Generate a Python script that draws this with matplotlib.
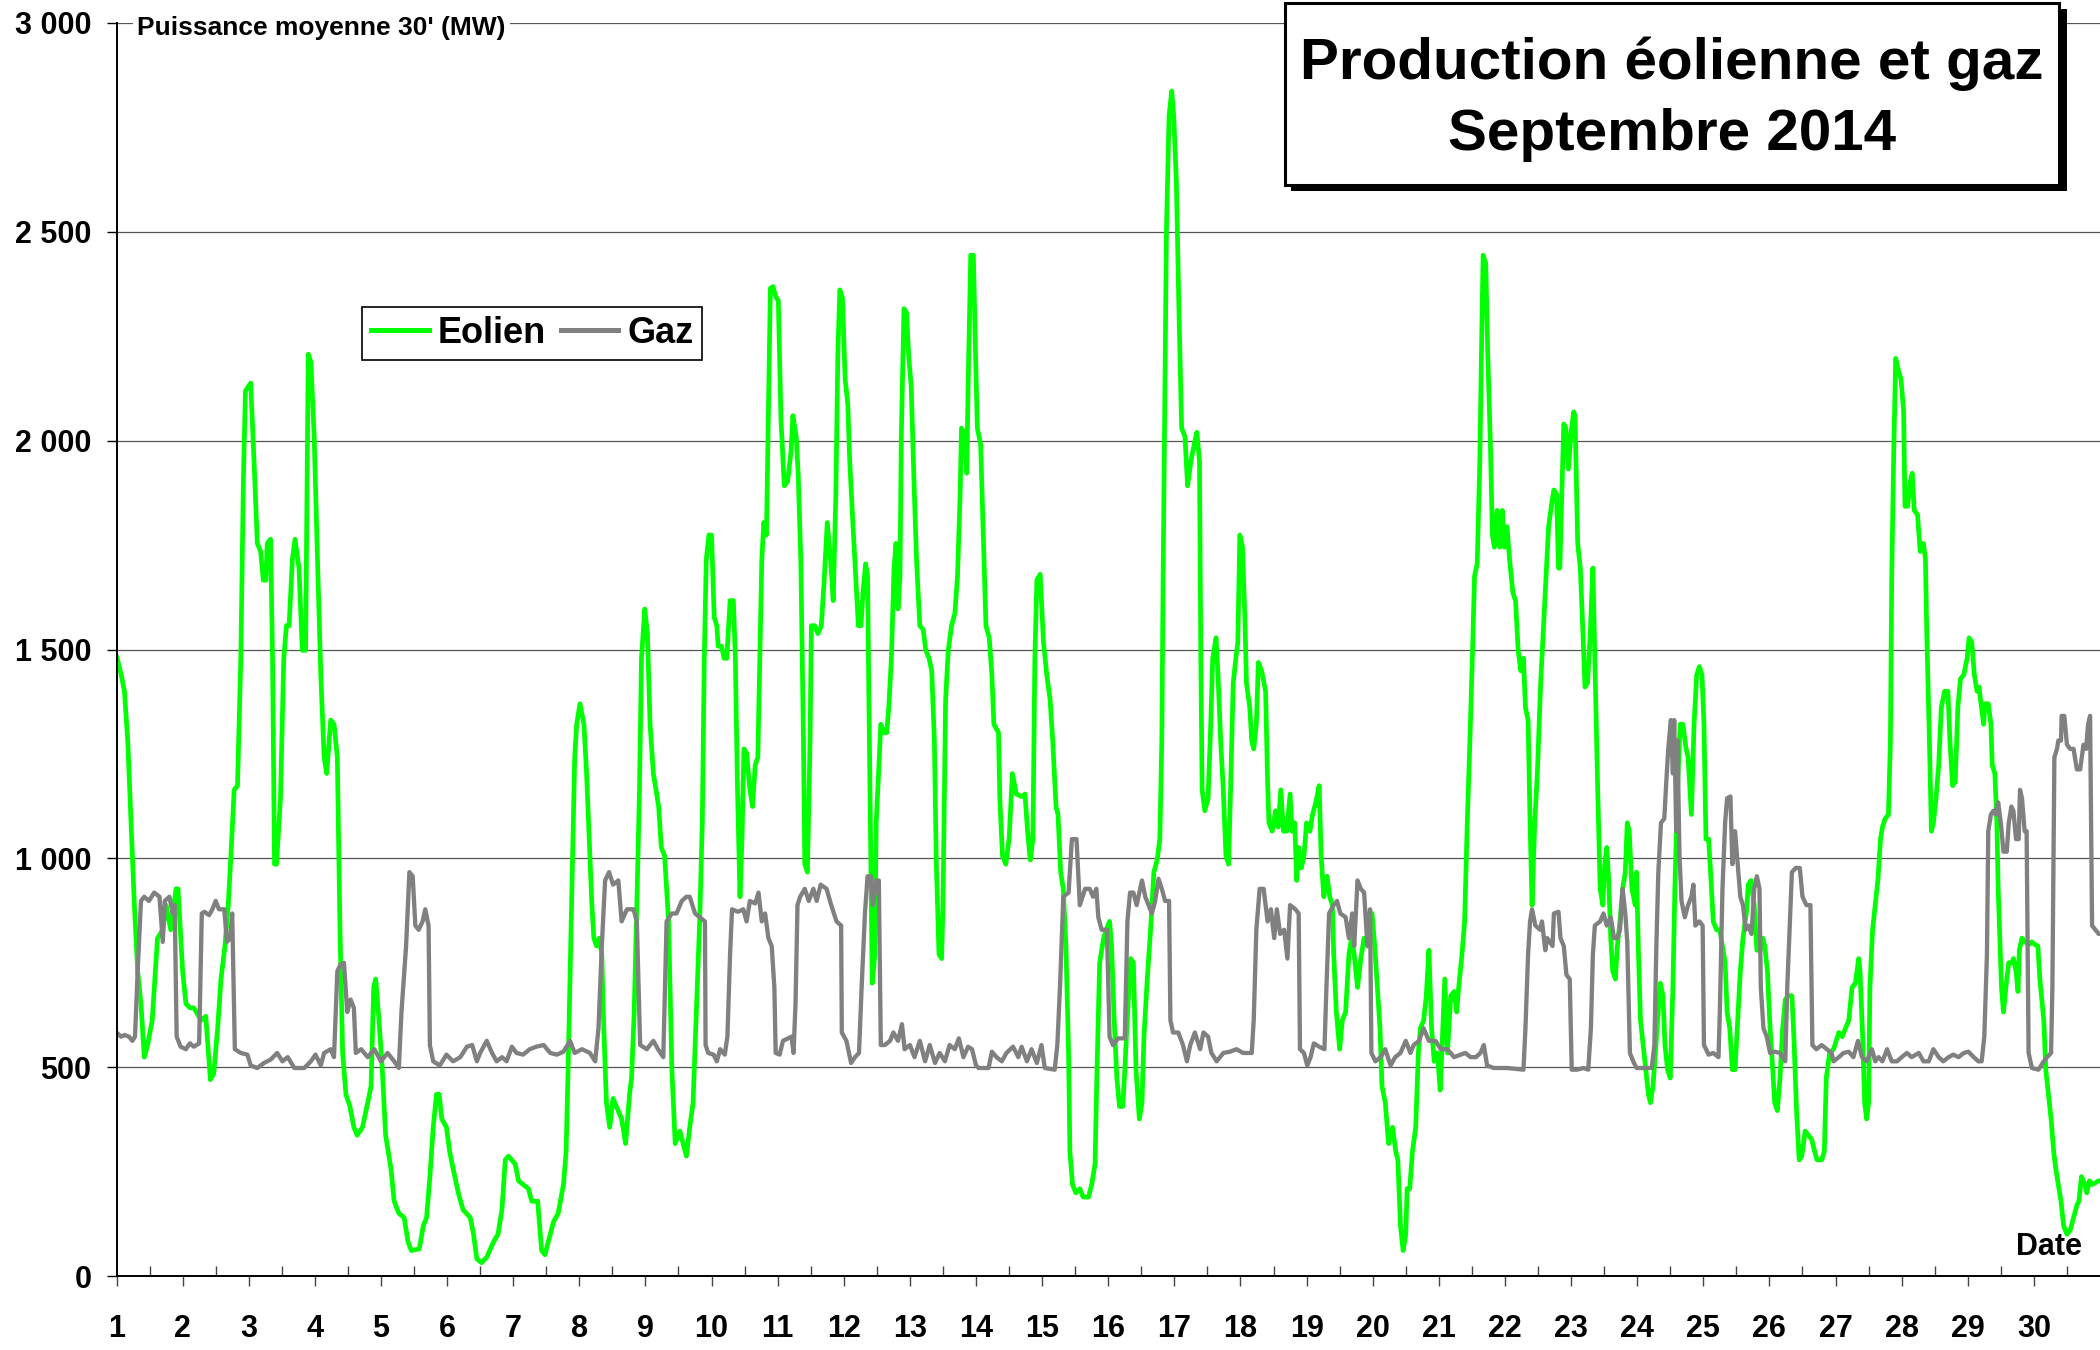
"""Production éolienne et gaz, septembre 2014 (puissance moyenne 30')."""

import matplotlib

matplotlib.use("Agg")
import matplotlib.pyplot as plt
from matplotlib.patches import Rectangle
from matplotlib.lines import Line2D
from matplotlib.ticker import FuncFormatter

# wind power, day of month (fractional) -> MW
wind_day = [
    1.00, 1.07, 1.12, 1.17, 1.22, 1.27, 1.32, 1.37, 1.42, 1.47, 1.54, 1.62, 1.70, 1.75, 1.82, 1.90, 1.93,
    2.00, 2.05, 2.11, 2.17, 2.28, 2.35, 2.42, 2.47, 2.53, 2.58, 2.64, 2.69, 2.73, 2.78, 2.83, 2.88, 2.92, 2.95,
    3.03, 3.08, 3.13, 3.18, 3.22, 3.26, 3.28, 3.33, 3.36, 3.39, 3.42, 3.48, 3.53, 3.57, 3.61, 3.66, 3.70, 3.76, 3.81, 3.86, 3.90, 3.94, 3.99,
    4.04, 4.09, 4.14, 4.18, 4.24, 4.29, 4.34, 4.38, 4.42, 4.47, 4.53, 4.59, 4.64, 4.72, 4.80, 4.85, 4.89, 4.92, 4.97,
    5.02, 5.07, 5.15, 5.20, 5.27, 5.35, 5.41, 5.46, 5.58, 5.64, 5.69, 5.74, 5.79, 5.84, 5.88, 5.92, 5.99,
    6.04, 6.09, 6.17, 6.24, 6.35, 6.40, 6.45, 6.52, 6.60, 6.70, 6.77, 6.83, 6.88, 6.93,
    7.03, 7.08, 7.15, 7.23, 7.28, 7.34, 7.37, 7.43, 7.48, 7.56, 7.61, 7.68, 7.76, 7.80, 7.83, 7.87, 7.91, 7.93, 7.96,
    8.01, 8.07, 8.11, 8.15, 8.19, 8.22, 8.26, 8.30, 8.34, 8.37, 8.41, 8.46, 8.51, 8.56, 8.64, 8.70, 8.76, 8.79, 8.83, 8.87, 8.91, 8.94, 8.99,
    9.03, 9.07, 9.12, 9.16, 9.20, 9.24, 9.29, 9.35, 9.40, 9.45, 9.52, 9.57, 9.62, 9.67, 9.72, 9.77, 9.82, 9.86, 9.89, 9.92, 9.96,
    10.00, 10.04, 10.08, 10.10, 10.15, 10.19, 10.23, 10.28, 10.33, 10.36, 10.39, 10.43, 10.46, 10.49, 10.53, 10.58, 10.62, 10.66, 10.70, 10.73, 10.76, 10.79, 10.83, 10.86, 10.89, 10.93, 10.97,
    11.01, 11.05, 11.10, 11.15, 11.20, 11.23, 11.28, 11.31, 11.35, 11.39, 11.41, 11.45, 11.49, 11.51, 11.56, 11.61, 11.66, 11.70, 11.75, 11.80, 11.84, 11.88, 11.91, 11.94, 11.98,
    12.02, 12.06, 12.09, 12.14, 12.18, 12.22, 12.26, 12.29, 12.33, 12.36, 12.38, 12.41, 12.43, 12.47, 12.49, 12.52, 12.56, 12.61, 12.65, 12.68, 12.72, 12.76, 12.79, 12.82, 12.85, 12.87, 12.91, 12.95, 12.98,
    13.02, 13.06, 13.10, 13.15, 13.20, 13.24, 13.29, 13.33, 13.37, 13.40, 13.44, 13.48, 13.50, 13.54, 13.58, 13.63, 13.68, 13.72, 13.76, 13.78, 13.82, 13.86, 13.88, 13.92, 13.96, 13.99,
    14.02, 14.07, 14.11, 14.15, 14.20, 14.24, 14.27, 14.34, 14.36, 14.40, 14.45, 14.50, 14.55, 14.61, 14.69, 14.74, 14.78, 14.82, 14.86, 14.89, 14.92, 14.97,
    15.02, 15.07, 15.12, 15.16, 15.21, 15.24, 15.28, 15.32, 15.36, 15.40, 15.42, 15.46, 15.51, 15.57, 15.62, 15.70, 15.75, 15.80, 15.83, 15.87, 15.93, 15.97,
    16.02, 16.05, 16.09, 16.13, 16.17, 16.22, 16.25, 16.30, 16.34, 16.38, 16.42, 16.47, 16.51, 16.54, 16.59, 16.64, 16.69, 16.74, 16.78, 16.81, 16.83, 16.86, 16.88, 16.92, 16.96, 16.99,
    17.03, 17.07, 17.11, 17.16, 17.20, 17.25, 17.30, 17.34, 17.38, 17.40, 17.42, 17.46, 17.51, 17.55, 17.58, 17.63, 17.66, 17.70, 17.74, 17.78, 17.82, 17.85, 17.89, 17.93, 17.96, 17.99,
    18.03, 18.07, 18.09, 18.14, 18.17, 18.20, 18.24, 18.27, 18.32, 18.38, 18.41, 18.43, 18.48, 18.53, 18.57, 18.61, 18.65, 18.70, 18.75, 18.78, 18.82, 18.85, 18.88, 18.92, 18.96,
    19.00, 19.05, 19.09, 19.14, 19.19, 19.22, 19.26, 19.31, 19.35, 19.39, 19.41, 19.45, 19.50, 19.54, 19.59, 19.64, 19.68, 19.72, 19.77, 19.82, 19.87, 19.93, 19.99,
    20.03, 20.07, 20.11, 20.14, 20.19, 20.24, 20.30, 20.35, 20.38, 20.42, 20.46, 20.50, 20.52, 20.56, 20.60, 20.65, 20.69, 20.72, 20.77, 20.81, 20.85, 20.89, 20.93, 20.98,
    21.02, 21.05, 21.09, 21.13, 21.18, 21.23, 21.27, 21.30, 21.35, 21.39, 21.43, 21.47, 21.51, 21.54, 21.58, 21.62, 21.65, 21.67, 21.71, 21.74, 21.78, 21.81, 21.84, 21.88, 21.92, 21.96, 21.99,
    22.03, 22.07, 22.12, 22.16, 22.20, 22.24, 22.28, 22.31, 22.35, 22.38, 22.41, 22.45, 22.49, 22.54, 22.59, 22.66, 22.71, 22.74, 22.78, 22.81, 22.83, 22.86, 22.89, 22.92, 22.96,
    23.00, 23.04, 23.06, 23.10, 23.14, 23.18, 23.21, 23.25, 23.29, 23.33, 23.36, 23.40, 23.44, 23.48, 23.51, 23.54, 23.57, 23.60, 23.63, 23.67, 23.70, 23.74, 23.78, 23.82, 23.85, 23.88, 23.92, 23.97, 23.99,
    24.02, 24.05, 24.09, 24.13, 24.17, 24.20, 24.24, 24.30, 24.35, 24.39, 24.42, 24.46, 24.50, 24.54, 24.57, 24.61, 24.65, 24.69, 24.74, 24.77, 24.82, 24.86, 24.90, 24.94, 24.98,
    25.01, 25.04, 25.08, 25.11, 25.15, 25.20, 25.25, 25.29, 25.33, 25.36, 25.40, 25.44, 25.48, 25.52, 25.56, 25.60, 25.65, 25.68, 25.72, 25.77, 25.81, 25.86, 25.90, 25.93, 25.97,
    26.01, 26.05, 26.08, 26.12, 26.16, 26.20, 26.24, 26.29, 26.34, 26.37, 26.41, 26.45, 26.49, 26.54, 26.59, 26.64, 26.67, 26.72, 26.79, 26.83, 26.86, 26.91, 26.97,
    27.05, 27.10, 27.15, 27.20, 27.25, 27.30, 27.35, 27.37, 27.41, 27.44, 27.47, 27.50, 27.52, 27.56, 27.60, 27.64, 27.68, 27.71, 27.75, 27.80, 27.83, 27.85, 27.88, 27.91, 27.95, 27.99,
    28.03, 28.05, 28.09, 28.13, 28.16, 28.19, 28.24, 28.28, 28.33, 28.36, 28.38, 28.42, 28.45, 28.48, 28.52, 28.56, 28.60, 28.65, 28.70, 28.73, 28.77, 28.81, 28.85, 28.89, 28.94, 28.99,
    29.02, 29.06, 29.10, 29.14, 29.17, 29.20, 29.24, 29.26, 29.31, 29.35, 29.37, 29.41, 29.44, 29.46, 29.51, 29.54, 29.57, 29.62, 29.67, 29.69, 29.73, 29.76, 29.78, 29.82, 29.87, 29.92, 29.97,
    30.02, 30.06, 30.09, 30.15, 30.18, 30.22, 30.26, 30.30, 30.33, 30.37, 30.41, 30.45, 30.50, 30.55, 30.60, 30.65, 30.68, 30.72, 30.77, 30.80, 30.84, 30.88, 30.93, 30.98,
]
wind_mw = [
    1485, 1440, 1400, 1282, 1085, 888, 730, 652, 524, 553, 612, 809, 829, 888, 829, 927, 927,
    730, 652, 642, 642, 612, 622, 470, 484, 593, 711, 790, 888, 1006, 1164, 1174, 1479, 1912, 2119,
    2138, 1951, 1754, 1735, 1666, 1666, 1754, 1764, 1479, 986, 986, 1144, 1479, 1557, 1557, 1715, 1764, 1695, 1498, 1498, 2207, 2188, 2010,
    1715, 1439, 1242, 1203, 1331, 1321, 1242, 829, 534, 435, 406, 356, 337, 356, 415, 455, 691, 711, 612,
    494, 337, 258, 179, 150, 140, 81, 61, 65, 120, 140, 238, 356, 435, 435, 376, 356,
    297, 258, 199, 159, 140, 100, 41, 32, 45, 81, 100, 159, 278, 287,
    268, 228, 219, 209, 179, 179, 179, 61, 51, 100, 130, 150, 219, 297, 494, 790, 1085, 1242, 1321,
    1370, 1321, 1203, 1046, 888, 809, 790, 809, 770, 593, 415, 356, 425, 406, 376, 317, 435, 474, 632, 888, 1164, 1479, 1597,
    1538, 1321, 1203, 1164, 1124, 1026, 1006, 849, 494, 317, 347, 317, 287, 356, 415, 632, 849, 1085, 1479, 1715, 1774,
    1774, 1577, 1557, 1508, 1508, 1479, 1479, 1617, 1617, 1479, 1183, 908, 1046, 1262, 1252, 1164, 1124, 1223, 1242, 1479, 1715, 1804, 1774, 2069, 2365, 2369, 2345,
    2335, 2050, 1892, 1902, 1971, 2060, 2010, 1922, 1715, 1282, 986, 967, 1282, 1557, 1557, 1538, 1557, 1656, 1804, 1715, 1617, 1873, 2207, 2361, 2341,
    2148, 2089, 1951, 1794, 1676, 1557, 1557, 1636, 1705, 1676, 1380, 986, 701, 770, 1085, 1183, 1321, 1301, 1301, 1361, 1479, 1695, 1754, 1597, 1676, 2010, 2316, 2306, 2207,
    2128, 1912, 1715, 1557, 1548, 1498, 1479, 1449, 1282, 986, 770, 760, 888, 1380, 1498, 1557, 1587, 1676, 1873, 2030, 2020, 1922, 2128, 2444, 2444, 2227,
    2030, 1991, 1774, 1557, 1528, 1439, 1321, 1301, 1144, 1006, 986, 1046, 1203, 1154, 1148, 1154, 1065, 996, 1046, 1479, 1666, 1680,
    1518, 1439, 1380, 1282, 1124, 1105, 967, 927, 790, 534, 297, 219, 199, 209, 189, 189, 219, 268, 494, 750, 809, 829,
    849, 790, 612, 474, 406, 406, 494, 652, 760, 750, 494, 376, 415, 573, 711, 829, 967, 996, 1046, 1282, 1676, 2168, 2503, 2778, 2837, 2778,
    2621, 2306, 2030, 2010, 1892, 1951, 1991, 2020, 1951, 1479, 1164, 1114, 1144, 1321, 1479, 1528, 1439, 1282, 1164, 1006, 986, 1164, 1420, 1479, 1518, 1774,
    1745, 1557, 1420, 1361, 1282, 1262, 1321, 1469, 1449, 1400, 1183, 1085, 1065, 1114, 1075, 1164, 1065, 1065, 1154, 1065, 1085, 947, 1026, 977, 1006,
    1085, 1065, 1105, 1134, 1174, 1006, 908, 957, 908, 888, 770, 632, 543, 612, 632, 770, 809, 770, 691, 760, 809, 790, 868,
    790, 691, 593, 455, 415, 317, 356, 297, 278, 120, 61, 100, 209, 209, 297, 356, 534, 593, 612, 671, 780, 593, 514, 534,
    445, 553, 711, 534, 671, 681, 632, 691, 770, 849, 1085, 1282, 1498, 1676, 1705, 1951, 2266, 2444, 2424, 2207, 1991, 1774, 1745, 1833, 1745, 1833, 1745,
    1794, 1715, 1636, 1617, 1498, 1449, 1479, 1361, 1331, 1085, 888, 1085, 1203, 1420, 1577, 1794, 1853, 1882, 1873, 1695, 1695, 1873, 2040, 2030, 1932,
    2020, 2069, 2060, 1754, 1695, 1538, 1410, 1420, 1538, 1695, 1479, 1183, 927, 888, 986, 1026, 947, 809, 730, 711, 790, 849, 927, 967, 1085, 1065, 927, 888, 967,
    770, 612, 553, 494, 435, 415, 455, 593, 701, 671, 553, 494, 474, 691, 927, 1164, 1321, 1321, 1262, 1242, 1105, 1321, 1439, 1459, 1439,
    1321, 1046, 1046, 967, 849, 829, 829, 790, 750, 632, 593, 494, 494, 612, 730, 809, 868, 937, 947, 888, 780, 780, 809, 790, 730,
    593, 494, 415, 396, 474, 593, 662, 671, 671, 573, 396, 278, 287, 347, 337, 327, 307, 278, 278, 297, 474, 534, 543,
    583, 573, 593, 612, 691, 701, 760, 730, 573, 415, 376, 415, 691, 829, 888, 947, 1046, 1075, 1095, 1105, 1282, 1676, 1971, 2197, 2168, 2148,
    2069, 1843, 1843, 1902, 1922, 1833, 1823, 1735, 1754, 1715, 1538, 1282, 1065, 1085, 1144, 1223, 1361, 1400, 1400, 1282, 1174, 1183, 1361, 1430, 1439, 1479,
    1528, 1518, 1439, 1400, 1410, 1370, 1321, 1370, 1370, 1321, 1223, 1203, 1085, 927, 691, 632, 681, 750, 750, 760, 730, 681, 780, 809, 800, 793, 800,
    793, 790, 711, 612, 494, 435, 376, 297, 258, 219, 179, 120, 100, 110, 140, 169, 179, 238, 219, 199, 228, 219, 223, 228,
]

# gas power, day of month (fractional) -> MW
gas_day = [
    1.00, 1.07, 1.12, 1.19, 1.24, 1.28, 1.32, 1.37, 1.42, 1.49, 1.57, 1.65, 1.70, 1.73, 1.80, 1.85, 1.88, 1.91, 1.97,
    2.05, 2.11, 2.17, 2.25, 2.29, 2.33, 2.40, 2.45, 2.50, 2.55, 2.63, 2.67, 2.72, 2.75, 2.79, 2.88, 2.98,
    3.03, 3.13, 3.23, 3.33, 3.43, 3.51, 3.59, 3.69, 3.84, 3.94, 4.01, 4.09, 4.14, 4.24, 4.29, 4.34, 4.39, 4.44, 4.49, 4.54, 4.59, 4.62, 4.70, 4.80, 4.90,
    5.00, 5.10, 5.20, 5.27, 5.31, 5.38, 5.43, 5.48, 5.52, 5.57, 5.63, 5.67, 5.72, 5.74, 5.79, 5.89, 5.99,
    6.09, 6.20, 6.30, 6.38, 6.45, 6.50, 6.60, 6.68, 6.75, 6.83, 6.90, 6.98, 7.05, 7.15, 7.25, 7.35, 7.46, 7.56, 7.66, 7.76, 7.86, 7.93,
    8.04, 8.16, 8.24, 8.29, 8.34, 8.39, 8.45, 8.51, 8.59, 8.64, 8.72, 8.82, 8.87, 8.92,
    9.02, 9.12, 9.19, 9.27, 9.32, 9.40, 9.47, 9.55, 9.62, 9.67, 9.75, 9.82, 9.90, 9.91, 9.95,
    10.03, 10.08, 10.13, 10.20, 10.24, 10.28, 10.31, 10.40, 10.48, 10.53, 10.58, 10.66, 10.71, 10.76, 10.81, 10.86, 10.91, 10.95, 10.97,
    11.03, 11.08, 11.16, 11.21, 11.24, 11.27, 11.30, 11.34, 11.41, 11.47, 11.54, 11.59, 11.65, 11.74, 11.81, 11.89, 11.96, 11.97,
    12.04, 12.11, 12.17, 12.23, 12.27, 12.32, 12.36, 12.41, 12.44, 12.49, 12.53, 12.56, 12.62, 12.70, 12.75, 12.82, 12.88, 12.92,
    13.00, 13.07, 13.15, 13.23, 13.30, 13.38, 13.45, 13.53, 13.60, 13.68, 13.74, 13.81, 13.88, 13.94,
    14.00, 14.04, 14.19, 14.24, 14.31, 14.39, 14.46, 14.56, 14.64, 14.69, 14.77, 14.84, 14.92, 14.99,
    15.04, 15.19, 15.23, 15.27, 15.32, 15.40, 15.45, 15.52, 15.57, 15.65, 15.72, 15.77, 15.82, 15.85, 15.90, 15.98,
    16.02, 16.07, 16.15, 16.25, 16.29, 16.33, 16.38, 16.43, 16.51, 16.56, 16.61, 16.66, 16.71, 16.76, 16.81, 16.86, 16.92, 16.94, 16.98,
    17.06, 17.13, 17.19, 17.24, 17.31, 17.39, 17.44, 17.51, 17.56, 17.64, 17.74, 17.84, 17.94,
    18.04, 18.17, 18.20, 18.24, 18.29, 18.35, 18.41, 18.46, 18.51, 18.55, 18.60, 18.66, 18.71, 18.75, 18.83, 18.88, 18.90, 18.96,
    19.01, 19.06, 19.11, 19.19, 19.27, 19.30, 19.34, 19.41, 19.46, 19.51, 19.59, 19.64, 19.69, 19.72, 19.77, 19.82, 19.87, 19.92, 19.96, 19.98,
    20.04, 20.12, 20.19, 20.27, 20.34, 20.42, 20.50, 20.57, 20.62, 20.70, 20.77, 20.85, 20.95,
    21.03, 21.13, 21.23, 21.33, 21.40, 21.48, 21.56, 21.63, 21.68, 21.73, 21.83,
    22.03, 22.28, 22.31, 22.35, 22.38, 22.41, 22.46, 22.53, 22.56, 22.61, 22.64, 22.72, 22.74, 22.81, 22.84, 22.89, 22.93, 22.98,
    23.01, 23.09, 23.19, 23.26, 23.30, 23.33, 23.36, 23.44, 23.49, 23.54, 23.60, 23.65, 23.70, 23.74, 23.78, 23.82, 23.85, 23.89, 23.94, 23.99,
    24.09, 24.22, 24.26, 24.29, 24.32, 24.36, 24.41, 24.44, 24.47, 24.51, 24.54, 24.56, 24.59, 24.61, 24.64, 24.67, 24.72, 24.77, 24.82, 24.85, 24.88, 24.94, 24.99,
    25.01, 25.08, 25.15, 25.23, 25.25, 25.29, 25.33, 25.36, 25.41, 25.44, 25.48, 25.52, 25.56, 25.60, 25.64, 25.68, 25.73, 25.77, 25.81, 25.85, 25.87, 25.91, 25.96,
    26.01, 26.08, 26.16, 26.24, 26.27, 26.30, 26.34, 26.40, 26.46, 26.50, 26.56, 26.62, 26.65, 26.71, 26.79, 26.87, 26.94,
    26.97, 27.05, 27.12, 27.20, 27.27, 27.34, 27.40, 27.47, 27.55, 27.60, 27.65, 27.71, 27.78, 27.85, 27.93,
    28.00, 28.08, 28.15, 28.26, 28.33, 28.41, 28.48, 28.56, 28.63, 28.71, 28.78, 28.86, 28.94,
    29.01, 29.09, 29.16, 29.21, 29.25, 29.29, 29.31, 29.35, 29.39, 29.42, 29.46, 29.50, 29.54, 29.59, 29.62, 29.66, 29.69, 29.73, 29.77, 29.79, 29.82, 29.86, 29.89, 29.92, 29.97,
    30.07, 30.15, 30.20, 30.26, 30.28, 30.31, 30.35, 30.37, 30.41, 30.42, 30.46, 30.50, 30.55, 30.60, 30.65, 30.70, 30.75, 30.79, 30.82, 30.85, 30.88, 30.93, 30.98,
]
gas_mw = [
    583, 573, 577, 573, 563, 573, 730, 898, 908, 898, 918, 908, 800, 898, 908, 868, 888, 573, 549,
    543, 557, 549, 557, 868, 872, 864, 878, 898, 878, 878, 800, 809, 868, 543, 534, 530,
    504, 498, 510, 518, 534, 514, 524, 498, 498, 514, 530, 504, 534, 543, 524, 730, 746, 750, 632, 662, 642, 534, 543, 524, 543,
    514, 534, 514, 498, 632, 790, 967, 957, 839, 829, 849, 878, 839, 553, 514, 504, 530,
    514, 524, 549, 553, 514, 534, 563, 534, 514, 524, 514, 549, 534, 530, 543, 549, 553, 534, 530, 537, 563, 534,
    543, 534, 514, 593, 790, 947, 967, 937, 947, 849, 878, 878, 849, 553,
    543, 563, 543, 524, 849, 868, 868, 898, 908, 908, 868, 859, 849, 553, 534,
    530, 514, 543, 530, 573, 770, 878, 872, 878, 849, 898, 892, 918, 849, 868, 809, 790, 691, 534,
    530, 563, 569, 573, 534, 652, 888, 908, 927, 898, 927, 898, 937, 927, 888, 849, 839, 583,
    563, 510, 524, 534, 691, 868, 957, 957, 888, 947, 947, 553, 553, 563, 583, 563, 603, 543,
    553, 524, 563, 514, 553, 510, 534, 514, 553, 543, 569, 524, 549, 543,
    504, 498, 498, 537, 524, 514, 534, 549, 524, 549, 514, 543, 510, 553,
    498, 494, 553, 691, 908, 918, 1046, 1046, 888, 927, 927, 908, 927, 859, 829, 829,
    573, 553, 569, 569, 849, 918, 918, 888, 947, 908, 888, 868, 898, 951, 927, 898, 898, 612, 583,
    583, 553, 514, 553, 583, 543, 583, 573, 534, 514, 534, 537, 543,
    534, 534, 612, 829, 927, 927, 849, 878, 809, 878, 819, 829, 760, 888, 878, 868, 543, 534,
    504, 524, 557, 549, 543, 691, 868, 888, 898, 868, 859, 809, 868, 790, 947, 927, 918, 790, 878, 534,
    514, 524, 543, 504, 524, 534, 563, 534, 553, 563, 593, 563, 563,
    543, 543, 524, 530, 534, 524, 524, 534, 553, 504, 498,
    498, 494, 593, 770, 849, 878, 839, 829, 849, 780, 809, 790, 868, 872, 809, 790, 721, 711,
    494, 494, 498, 494, 593, 770, 839, 849, 868, 839, 859, 809, 809, 829, 927, 868, 800, 534, 514, 498,
    498, 498, 553, 790, 967, 1085, 1095, 1183, 1262, 1331, 1203, 1331, 1065, 1282, 1006, 898, 859, 888, 908, 937, 839, 849, 839,
    553, 530, 534, 524, 632, 927, 1085, 1144, 1148, 986, 1065, 986, 908, 888, 829, 839, 819, 927, 957, 927, 691, 593, 573,
    534, 537, 534, 514, 691, 809, 967, 977, 977, 908, 888, 888, 553, 543, 553, 543, 534,
    514, 524, 534, 537, 524, 563, 524, 514, 543, 514, 524, 514, 543, 514, 514,
    524, 534, 524, 534, 514, 514, 543, 524, 514, 524, 530, 524, 534,
    537, 524, 514, 514, 573, 770, 1065, 1105, 1114, 1105, 1134, 1085, 1016, 1016, 1085, 1124, 1114, 1046, 1046, 1164, 1144, 1065, 1065, 534, 498,
    494, 514, 524, 534, 691, 1242, 1262, 1282, 1282, 1341, 1341, 1272, 1262, 1262, 1213, 1213, 1272, 1262, 1321, 1341, 839, 829, 819,
]

assert len(wind_day) == len(wind_mw), (len(wind_day), len(wind_mw))
assert len(gas_day) == len(gas_mw), (len(gas_day), len(gas_mw))

days = list(range(1, 31))
half_days = [d + 0.5 for d in days]
y_levels = [0, 500, 1000, 1500, 2000, 2500, 3000]

W, H = 2100, 1350
plt.rcParams["font.family"] = ["Liberation Sans", "DejaVu Sans"]
plt.rcParams["font.weight"] = "bold"

fig = plt.figure(figsize=(W / 100, H / 100), dpi=100)
ax = fig.add_axes([116.5 / W, 1 - 1276 / H, 1 - 116.5 / W, (1276 - 23) / H])

ax.plot(wind_day, wind_mw, color="#00ff00", lw=3.4, solid_joinstyle="round",
        solid_capstyle="round", label="Eolien", zorder=3)
ax.plot(gas_day, gas_mw, color="#808080", lw=3.1, solid_joinstyle="round",
        solid_capstyle="round", label="Gaz", zorder=4)

ax.set_xlim(1, 31)
ax.set_ylim(0, 3000)
ax.set_yticks(y_levels)
ax.yaxis.set_major_formatter(FuncFormatter(lambda v, _: f"{int(v):,}".replace(",", " ")))
ax.set_xticks(days)
ax.set_xticks(half_days, minor=True)
ax.set_xticklabels([str(d) for d in days])
ax.grid(axis="y", color="#555555", lw=0.9, zorder=1)
ax.set_axisbelow(True)

for s in ("top", "right"):
    ax.spines[s].set_visible(False)
for s in ("left", "bottom"):
    ax.spines[s].set_linewidth(1.4)
    ax.spines[s].set_zorder(5)

ax.tick_params(axis="y", direction="out", length=7, width=1, labelsize=22, pad=11)
ax.tick_params(axis="x", which="major", direction="out", length=7.5, width=1,
               color="#444444", labelsize=22, pad=20)
ax.tick_params(axis="x", which="minor", direction="in", length=7, width=1,
               color="#444444")
for lab in ax.get_xticklabels() + ax.get_yticklabels():
    lab.set_fontweight("bold")

handles = [Line2D([], [], color="#00ff00", lw=3.6), Line2D([], [], color="#808080", lw=3.6)]
leg = ax.legend(handles, ["Eolien", "Gaz"], loc="upper left",
                bbox_to_anchor=(362 / W, 1 - 307 / H), bbox_transform=fig.transFigure,
                ncol=2, fancybox=False, edgecolor="black", framealpha=1,
                prop={"weight": "bold", "size": 26}, handlelength=1.6,
                handletextpad=0.25, columnspacing=0.4, borderpad=0.25,
                borderaxespad=0)
leg.get_frame().set_linewidth(1.2)
leg.set_zorder(6)

fig.text(137 / W, 1 - 28 / H, "Puissance moyenne 30' (MW)", fontsize=19,
         fontweight="bold", ha="left", va="center",
         bbox=dict(fc="white", ec="none", pad=3))

# title box with drop shadow
fig.add_artist(Rectangle((1291 / W, 1 - 191 / H), (2067 - 1291) / W, (191 - 9) / H,
                         transform=fig.transFigure, fc="black", ec="none", zorder=7))
fig.add_artist(Rectangle((1285 / W, 1 - 185 / H), (2059 - 1285) / W, (185 - 3) / H,
                         transform=fig.transFigure, fc="white", ec="black", lw=2.2, zorder=8))
fig.text(1672 / W, 1 - 79 / H, "Production éolienne et gaz", fontsize=42,
         fontweight="bold", ha="center", va="baseline", zorder=9)
fig.text(1672 / W, 1 - 150 / H, "Septembre 2014", fontsize=42,
         fontweight="bold", ha="center", va="baseline", zorder=9)

fig.text(2049 / W, 1 - 1247 / H, "Date", fontsize=22, fontweight="bold",
         ha="center", va="center")

fig.savefig("out.png", dpi=100)
